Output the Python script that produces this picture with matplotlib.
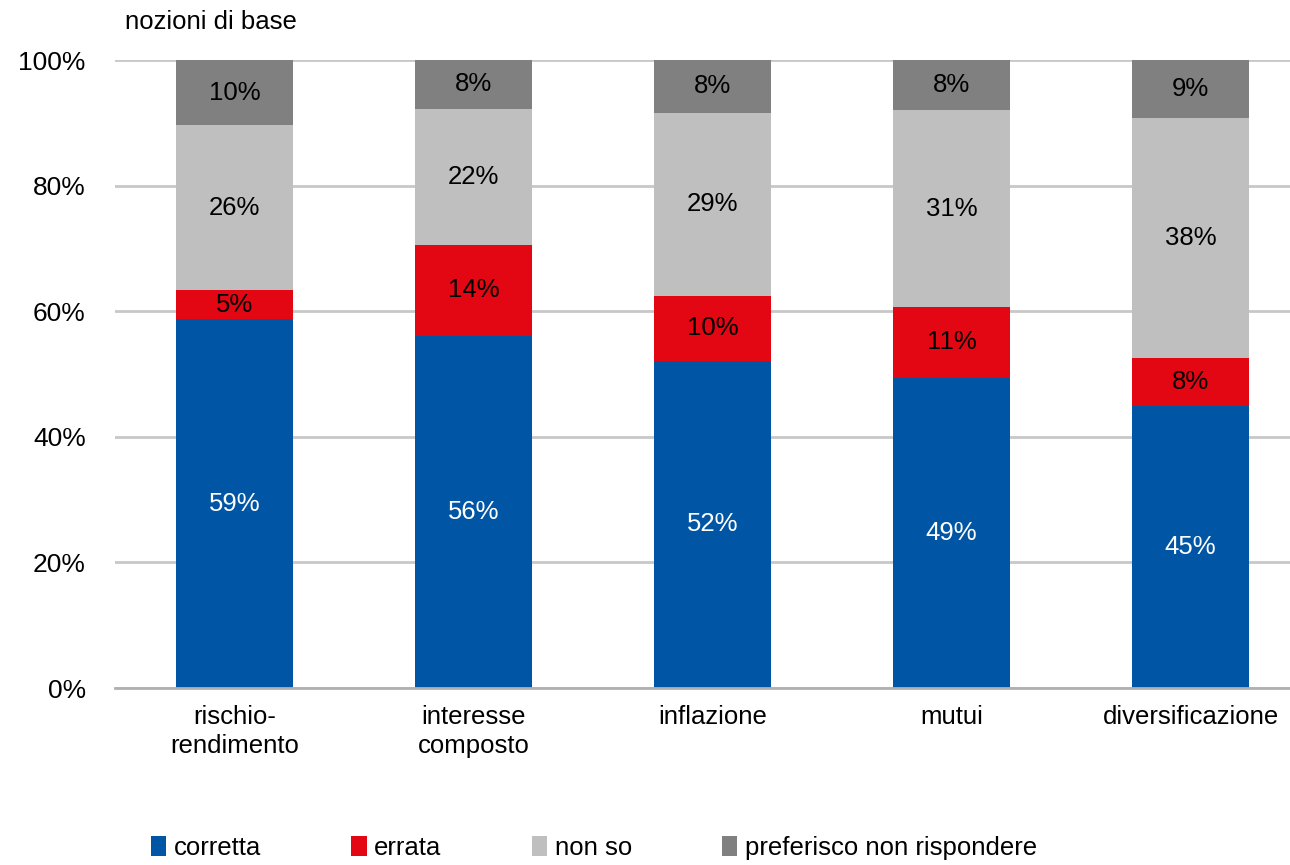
import matplotlib
matplotlib.use("Agg")
import matplotlib.pyplot as plt
import numpy as np

# Dati (percentuali)
categorie = ["rischio-\nrendimento", "interesse\ncomposto", "inflazione", "mutui", "diversificazione"]
corretta = [58.7, 56.1, 52.1, 49.4, 44.9]
errata = [4.6, 14.4, 10.3, 11.3, 7.6]
non_so = [26.3, 21.7, 29.2, 31.3, 38.3]
preferisco = [10.4, 7.8, 8.4, 8.0, 9.2]
serie_nomi = ["corretta", "errata", "non so", "preferisco non rispondere"]

colori = ["#0055A4", "#E30613", "#BFBFBF", "#808080"]
colori_testo = ["white", "black", "black", "black"]

plt.rcParams['font.family'] = ['Liberation Sans', 'DejaVu Sans']

fig = plt.figure(figsize=(12.9, 8.65), dpi=100)
ax = fig.add_axes([115 / 1290, 1 - 688 / 865, 1195 / 1290, 628 / 865])

x = np.arange(len(categorie))
base = np.zeros(len(categorie))
for valori, nome, col, ct in zip([corretta, errata, non_so, preferisco], serie_nomi, colori, colori_testo):
    valori = np.array(valori)
    ax.bar(x, valori, bottom=base, width=0.49, color=col, label=nome, zorder=3)
    for xi, b, v in zip(x, base, valori):
        ax.text(xi, b + v / 2, f"{v:.0f}%", ha="center", va="center",
                fontsize=18.5, color=ct, zorder=4)
    base += valori

ax.set_xlim(-0.5, 4.5)
ax.set_ylim(0, 100)
ax.set_yticks(range(0, 101, 20))
ax.set_yticklabels([f"{t}%" for t in range(0, 101, 20)], fontsize=19)
ax.set_xticks(x)
ax.set_xticklabels(categorie, fontsize=18.5, linespacing=1.3)
ax.tick_params(length=0, pad=12)
ax.tick_params(axis="y", pad=21)
ax.grid(axis="y", color="#C8C8C8", linewidth=2, zorder=0)
for s in ["top", "right", "left"]:
    ax.spines[s].set_visible(False)
ax.spines["bottom"].set_color("#B0B0B0")
ax.spines["bottom"].set_linewidth(2)
ax.spines["bottom"].set_zorder(5)

fig.text(125 / 1290, 1 - 22 / 865, "nozioni di base", fontsize=18.5, va="center", ha="left")

fig.legend(loc="center", bbox_to_anchor=(594 / 1290, 1 - 848 / 865), ncol=4, frameon=False,
           fontsize=18.5, handlelength=0.6, handleheight=0.8, handletextpad=0.3,
           columnspacing=3.5)

fig.savefig("out.png", dpi=100)
